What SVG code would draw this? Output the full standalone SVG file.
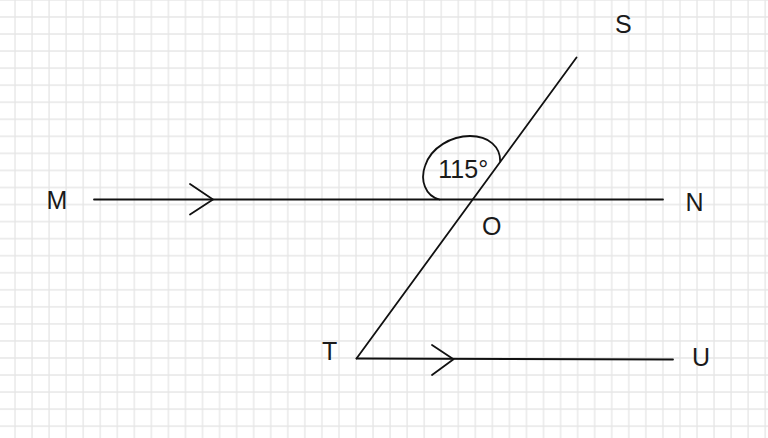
<svg xmlns="http://www.w3.org/2000/svg" width="768" height="438" viewBox="0 0 768 438">
  <defs>
    <pattern id="grid" x="14" y="-1" width="17.05" height="17.05" patternUnits="userSpaceOnUse">
      <path d="M 0 1 H 17.05 M 1 0 V 17.05" fill="none" stroke="#e6e6e6" stroke-width="1.3"/>
    </pattern>
    <style>
      .ln { fill: none; stroke: #111; stroke-width: 1.8; stroke-linecap: round; stroke-linejoin: round; }
      .lbl { font-family: "Liberation Sans", Arial, sans-serif; font-size: 25px; fill: #1a1a1a; }
    </style>
  </defs>
  <rect width="768" height="438" fill="#ffffff"/>
  <rect width="768" height="438" fill="url(#grid)"/>

  <g id="connectors">
    <path id="line-MN" class="ln" d="M 94 199.5 L 663 199.5"/>
    <path id="arrow-MN" class="ln" d="M 190 184 L 213 199.5 L 190 214.5"/>
    <path id="line-ST" class="ln" d="M 576.5 57.5 L 356.5 358.5"/>
    <path id="line-TU" class="ln" d="M 356.5 358.5 L 673 359.5"/>
    <path id="arrow-TU" class="ln" d="M 432 345 L 453.5 359.2 L 432 375"/>
    <path id="angle-arc" class="ln" d="M 439.5 199.5 C 425 196, 420 180, 425 166 C 431 147, 452 136, 470 136 C 489 136, 500.5 147, 500.2 161.5"/>
  </g>

  <g id="node-M"><text class="lbl" x="46.5" y="209">M</text></g>
  <g id="node-N"><text class="lbl" x="685.4" y="211">N</text></g>
  <g id="node-O"><text class="lbl" x="482" y="235">O</text></g>
  <g id="node-S"><text class="lbl" x="615" y="33">S</text></g>
  <g id="node-T"><text class="lbl" x="322" y="360">T</text></g>
  <g id="node-U"><text class="lbl" x="692" y="366">U</text></g>
  <g id="angle-label"><text class="lbl" x="438.3" y="178.3">115°</text></g>
</svg>
